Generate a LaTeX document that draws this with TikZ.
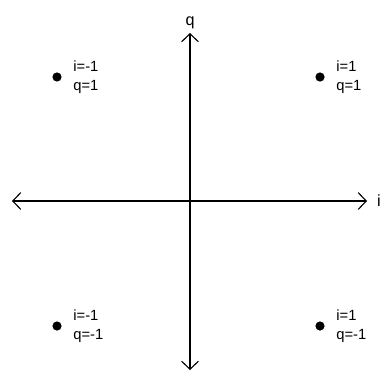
\documentclass[tikz,border=0pt]{standalone}
\usepackage{fontspec}
\setmainfont{Liberation Sans}
\usetikzlibrary{arrows.meta,positioning}
\tikzset{
  qpaxis/.style={{Straight Barb[length=2mm,width=4.2mm]}-{Straight Barb[length=2mm,width=4.2mm]}, line width=.8pt, draw=black},
  qpdot/.style={circle, fill=black, inner sep=0pt, minimum size=2.3mm},
  qplabel/.style={align=left, inner sep=1pt, font=\fontsize{10.5}{13.5}\selectfont},
  qpaxlabel/.style={inner sep=1pt, font=\fontsize{11.5}{13}\selectfont}
}

\begin{document}
\begin{tikzpicture}[x=.025cm, y=-.025cm]
  \useasboundingbox (0,0) rectangle (388,375);
  % axes
  \coordinate (origin) at (190,201);
  \coordinate (qtop) at (190,33);
  \coordinate (qbot) at (190,370);
  \coordinate (ileft) at (12,201);
  \coordinate (iright) at (367,201);
  \draw[qpaxis] (qbot) -- (qtop);
  \draw[qpaxis] (ileft) -- (iright);
  \node[qpaxlabel, above=2pt of qtop] (qname) {q};
  \node[qpaxlabel, right=6pt of iright] (iname) {i};
  % symbols
  \node[qpdot] (s1) at (57,77) {};
  \node[qpdot] (s2) at (320,77) {};
  \node[qpdot] (s3) at (57,326) {};
  \node[qpdot] (s4) at (320,326) {};
  \node[qplabel, right=7pt of s1] (l1) {i=-1\\q=1};
  \node[qplabel, right=7pt of s2] (l2) {i=1\\q=1};
  \node[qplabel, right=7pt of s3] (l3) {i=-1\\q=-1};
  \node[qplabel, right=7pt of s4] (l4) {i=1\\q=-1};
\end{tikzpicture}
\end{document}
